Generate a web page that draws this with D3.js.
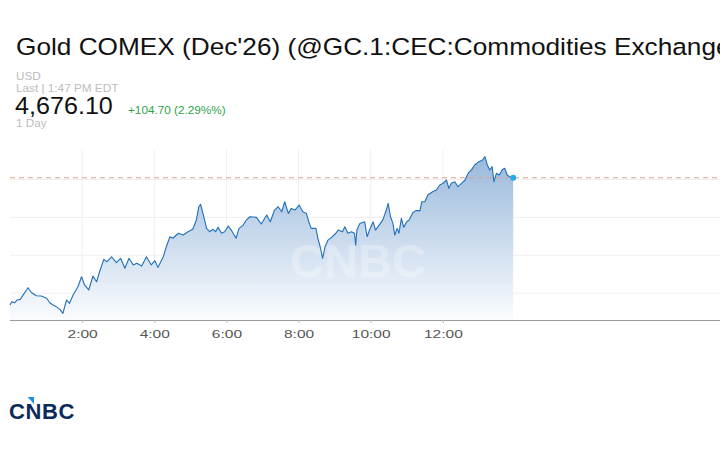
<!DOCTYPE html>
<html>
<head>
<meta charset="utf-8">
<script src="https://cdn.jsdelivr.net/npm/d3@7"></script>
<style>
  body { margin: 0; background: #fff; }
  svg { display: block; font-family: "Liberation Sans", Arial, sans-serif; }
</style>
</head>
<body>
<svg id="chart" width="720" height="450"></svg>
<script>
// intraday prices
const times = ["0:00","0:03","0:08","0:12","0:17","0:20","0:30","0:36","0:44","0:52",
  "1:01","1:06","1:12","1:17","1:23","1:28","1:34","1:39","1:45","1:53",
  "1:59","2:04","2:11","2:18","2:24","2:29","2:36","2:41","2:49","2:57",
  "3:04","3:11","3:18","3:25","3:31","3:39","3:47","3:55","4:01","4:06",
  "4:15","4:20","4:26","4:31","4:40","4:48","4:56","5:04","5:10","5:14",
  "5:17","5:21","5:27","5:32","5:38","5:42","5:46","5:52","5:57","6:03",
  "6:08","6:16","6:21","6:28","6:33","6:39","6:50","6:58","7:07","7:13",
  "7:20","7:26","7:32","7:37","7:43","7:48","7:54","8:01","8:07","8:13",
  "8:17","8:21","8:29","8:32","8:36","8:40","8:44","8:49","8:55","9:02",
  "9:06","9:13","9:17","9:22","9:28","9:33","9:35","9:37","9:42","9:50",
  "9:54","9:58","10:04","10:08","10:14","10:20","10:26","10:29","10:33","10:37",
  "10:40","10:44","10:47","10:51","10:55","11:00","11:04","11:10","11:15","11:22",
  "11:25","11:30","11:35","11:43","11:49","11:55","12:00","12:06","12:10","12:14",
  "12:20","12:25","12:31","12:37","12:42","12:48","12:53","13:00","13:06","13:10",
  "13:14","13:18","13:22","13:25","13:29","13:34","13:39","13:43","13:47","13:51",
  "13:57"];

const prices = [4592.2,4594.4,4593.7,4595.5,4595.9,4597.7,4603.6,4600.3,4598.3,4598.1,
  4596.6,4593.7,4592.2,4591.1,4589.3,4586.7,4595.5,4593.3,4598.8,4604.2,
  4610.8,4605.4,4602.1,4611.3,4607.5,4614.1,4622.3,4620.7,4624.0,4620.1,
  4623.0,4616.4,4623.0,4618.6,4619.7,4617.9,4624.0,4618.6,4621.4,4617.0,
  4624.0,4630.6,4637.2,4636.2,4639.5,4638.3,4640.5,4642.1,4648.2,4657.0,
  4658.6,4652.6,4642.7,4640.5,4642.1,4640.5,4643.4,4639.5,4640.5,4644.3,
  4641.6,4636.2,4642.7,4644.9,4648.2,4650.4,4650.0,4645.6,4651.5,4647.1,
  4654.8,4657.0,4653.7,4660.3,4652.6,4655.9,4654.8,4658.1,4653.7,4652.6,
  4647.1,4642.7,4642.7,4636.2,4630.6,4623.0,4630.6,4635.0,4636.8,4639.5,
  4641.6,4640.5,4643.8,4639.5,4640.5,4639.5,4631.7,4641.6,4646.0,4647.1,
  4637.2,4641.6,4647.1,4641.6,4644.9,4648.2,4654.8,4659.2,4650.4,4646.0,
  4638.3,4642.7,4639.5,4649.3,4643.4,4647.1,4648.2,4653.0,4654.4,4654.4,
  4660.3,4660.3,4664.7,4666.9,4668.0,4671.3,4672.4,4674.6,4669.1,4672.4,
  4673.5,4670.2,4672.4,4674.6,4679.0,4681.6,4684.5,4686.7,4687.8,4690.0,
  4684.5,4681.2,4683.4,4673.5,4679.0,4677.9,4681.6,4682.3,4677.9,4676.8,
  4676.1];

const gridValues = [4600, 4625, 4650, 4675];
const tickTimes = ["2:00","4:00","6:00","8:00","10:00","12:00"];
const lastPrice = 4676.10;

const title = "Gold COMEX (Dec'26) (@GC.1:CEC:Commodities Exchange";
const currency = "USD";
const lastTime = "Last | 1:47 PM EDT";
const priceLabel = "4,676.10";
const changeLabel = "+104.70 (2.29%%)";
const rangeLabel = "1 Day";

const parseTime = d3.timeParse("%H:%M");
const data = times.map((t, i) => ({ t: parseTime(t), v: prices[i] }));

const svg = d3.select("#chart");
const plotLeft = 10, plotRight = 720, plotTop = 150, plotBottom = 320;

const x = d3.scaleTime()
  .domain([parseTime("0:00"), parseTime("19:41")])
  .range([plotLeft, plotRight]);
const y = d3.scaleLinear()
  .domain([4582.3, 4694.4])
  .range([plotBottom, plotTop]);

// header texts are slightly wide in the reference
function stretched(g, tx, ty, txt) {
  return g.append("text")
    .attr("transform", `translate(${tx},${ty}) scale(1.07,1)`)
    .text(txt);
}

const head = svg.append("g");
stretched(head, 16, 55, title).attr("font-size", 24.5).attr("fill", "#111");
stretched(head, 16, 80, currency).attr("font-size", 11).attr("fill", "#bdbdbd");
stretched(head, 16, 92, lastTime).attr("font-size", 11).attr("fill", "#bdbdbd");
stretched(head, 15, 114, priceLabel).attr("font-size", 23.5).attr("fill", "#111");
stretched(head, 128, 114, changeLabel).attr("font-size", 11).attr("fill", "#2ea44f");
stretched(head, 16, 127, rangeLabel).attr("font-size", 11).attr("fill", "#bdbdbd");

// gradient for the area
const grad = svg.append("defs").append("linearGradient")
  .attr("id", "fill")
  .attr("gradientUnits", "userSpaceOnUse")
  .attr("x1", 0).attr("x2", 0)
  .attr("y1", y(4690)).attr("y2", plotBottom);
grad.append("stop").attr("offset", 0).attr("stop-color", "#9ab9dc");
grad.append("stop").attr("offset", 1).attr("stop-color", "#fafcfe");

// grid
svg.append("g").selectAll("line")
  .data(gridValues)
  .enter().append("line")
  .attr("x1", plotLeft).attr("x2", plotRight)
  .attr("y1", d => y(d)).attr("y2", d => y(d))
  .attr("stroke", "#efefef");

svg.append("g").selectAll("line")
  .data(tickTimes)
  .enter().append("line")
  .attr("x1", d => x(parseTime(d))).attr("x2", d => x(parseTime(d)))
  .attr("y1", plotTop).attr("y2", plotBottom)
  .attr("stroke", "#efefef");

// area + line
const area = d3.area()
  .x(d => x(d.t))
  .y0(plotBottom)
  .y1(d => y(d.v));
svg.append("path")
  .datum(data)
  .attr("d", area)
  .attr("fill", "url(#fill)");

// watermark
svg.append("text")
  .attr("x", 358).attr("y", 277)
  .attr("text-anchor", "middle")
  .attr("font-size", 47)
  .attr("font-weight", "bold")
  .attr("fill", "#fff")
  .attr("fill-opacity", 0.3)
  .text("CNBC");

const line = d3.line()
  .x(d => x(d.t))
  .y(d => y(d.v));
svg.append("path")
  .datum(data)
  .attr("d", line)
  .attr("fill", "none")
  .attr("stroke", "#2170b8")
  .attr("stroke-width", 1.1)
  .attr("stroke-linejoin", "round");

// last price reference
svg.append("line")
  .attr("x1", plotLeft).attr("x2", plotRight)
  .attr("y1", y(lastPrice)).attr("y2", y(lastPrice))
  .attr("stroke", "#d9a090")
  .attr("stroke-dasharray", "5,4");

const last = data[data.length - 1];
svg.append("circle")
  .attr("cx", x(last.t)).attr("cy", y(last.v))
  .attr("r", 3)
  .attr("fill", "#25a9e8");

// x axis
const xAxis = d3.axisBottom(x)
  .tickValues(tickTimes.map(parseTime))
  .tickFormat(d3.timeFormat("%-H:%M"))
  .tickSize(3)
  .tickPadding(7);
const ax = svg.append("g")
  .attr("transform", `translate(0,${plotBottom})`)
  .call(xAxis);
ax.select(".domain").attr("stroke", "#9a9a9a").attr("d", `M${plotLeft},0.5H${plotRight}`);
ax.selectAll(".tick line").attr("stroke", "#bbb");
// labels in the reference are drawn wide
ax.selectAll(".tick text")
  .attr("font-family", "Liberation Sans, Arial, sans-serif")
  .attr("font-size", 11.5)
  .attr("transform", "scale(1.35,1)")
  .attr("fill", "#555");

// CNBC logo
const logo = svg.append("g");
logo.append("text")
  .attr("x", 9).attr("y", 419)
  .attr("font-size", 22)
  .attr("font-weight", "bold")
  .attr("letter-spacing", "0.6px")
  .attr("fill", "#0c2a5a")
  .text("CNBC");
logo.append("path")
  .attr("d", "M27.5,397 L34,397 L34,404 Z")
  .attr("fill", "#1e90e6");
</script>
</body>
</html>
